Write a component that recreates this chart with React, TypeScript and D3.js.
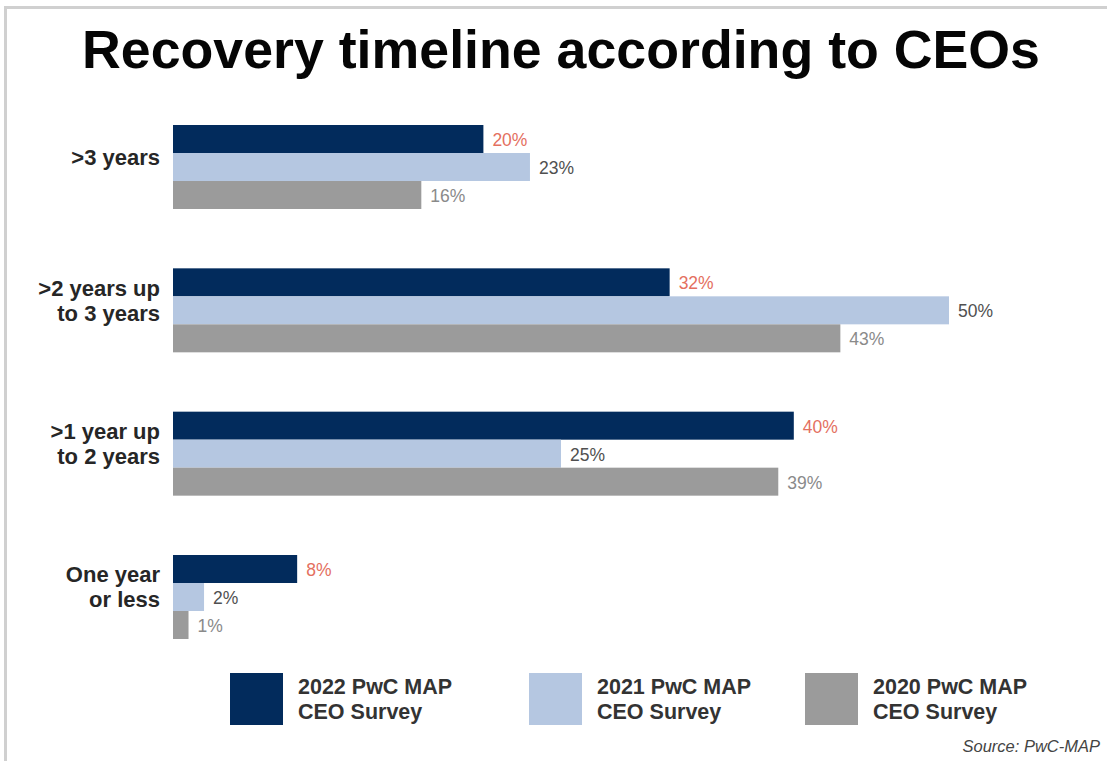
import React from "react";
import * as d3 from "d3";

const categories: string[][] = [
  [">3 years"],
  [">2 years up", "to 3 years"],
  [">1 year up", "to 2 years"],
  ["One year", "or less"],
];
const seriesNames: string[][] = [
  ["2022 PwC MAP", "CEO Survey"],
  ["2021 PwC MAP", "CEO Survey"],
  ["2020 PwC MAP", "CEO Survey"],
];
const values2022 = [20, 32, 40, 8];
const values2021 = [23, 50, 25, 2];
const values2020 = [16, 43, 39, 1];
const seriesValues = [values2022, values2021, values2020];
const barColors = ["#022b5c", "#b5c7e1", "#9b9b9b"];
const labelColors = ["#e4705f", "#505050", "#8a8a8a"];

const W = 1107;
const H = 761;
const FONT = "'Liberation Sans', Arial, Helvetica, sans-serif";
const LEGEND_LEFT = [230, 529, 805];

export default function App() {
  const x = d3.scaleLinear().domain([0, 50]).range([173, 949]);
  const y = d3
    .scaleBand<number>()
    .domain(d3.range(categories.length))
    .range([125, 639])
    .paddingInner(0.414);
  const ys = d3
    .scaleBand<number>()
    .domain(d3.range(seriesValues.length))
    .range([0, y.bandwidth()]);

  return (
    <svg
      width={W}
      height={H}
      style={{ position: "absolute", left: 0, top: 0, background: "#fff" }}
      fontFamily={FONT}
    >
      <rect x={0} y={0} width={W} height={H} fill="#fff" />
      <rect
        x={5.5}
        y={7.5}
        width={W + 20}
        height={H + 20}
        fill="none"
        stroke="#d0d0d0"
        strokeWidth={3}
      />
      <text
        x={561}
        y={68}
        textAnchor="middle"
        fontSize={54}
        fontWeight="bold"
        fill="#050505"
        textLength={958}
        lengthAdjust="spacingAndGlyphs"
      >
        Recovery timeline according to CEOs
      </text>

      {categories.map((lines, ci) => {
        const g0 = y(ci)!;
        const cy = g0 + y.bandwidth() / 2 - 10;
        const startY = cy - ((lines.length - 1) * 25) / 2;
        return (
          <g key={ci}>
            {lines.map((ln, li) => (
              <text
                key={li}
                x={160}
                y={startY + li * 25}
                dy="0.35em"
                textAnchor="end"
                fontSize={22}
                fontWeight="bold"
                fill="#262626"
              >
                {ln}
              </text>
            ))}
            {seriesValues.map((vals, si) => {
              const v = vals[ci];
              const by = g0 + ys(si)!;
              return (
                <g key={si}>
                  <rect
                    x={x(0)}
                    y={by}
                    width={x(v) - x(0)}
                    height={ys.bandwidth()}
                    fill={barColors[si]}
                  />
                  <text
                    x={x(v) + 9}
                    y={by + ys.bandwidth() / 2 + 1}
                    dy="0.35em"
                    fontSize={17.5}
                    fill={labelColors[si]}
                  >
                    {v}%
                  </text>
                </g>
              );
            })}
          </g>
        );
      })}

      {seriesNames.map((lines, si) => {
        const lx = LEGEND_LEFT[si];
        return (
          <g key={si}>
            <rect x={lx} y={673} width={53} height={52} fill={barColors[si]} />
            {lines.map((ln, li) => (
              <text
                key={li}
                x={lx + 68}
                y={686 + li * 25}
                dy="0.35em"
                fontSize={21.5}
                fontWeight="bold"
                fill="#333"
              >
                {ln}
              </text>
            ))}
          </g>
        );
      })}

      <text
        x={1100}
        y={746}
        dy="0.35em"
        textAnchor="end"
        fontSize={16.5}
        fontStyle="italic"
        fill="#444"
      >
        Source: PwC-MAP
      </text>
    </svg>
  );
}
